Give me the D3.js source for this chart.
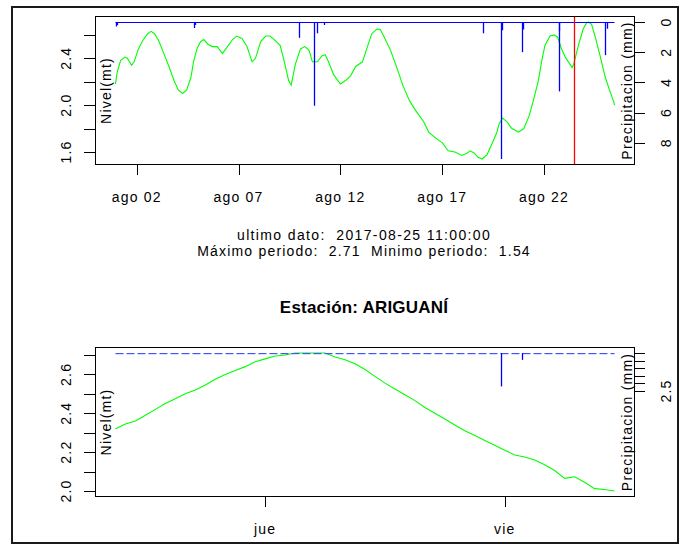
<!DOCTYPE html>
<html><head><meta charset="utf-8">
<script src="https://cdn.jsdelivr.net/npm/d3@7"></script>
<style>
body{margin:0;background:#fff;}
svg text{font-family:"Liberation Sans",Arial,sans-serif;font-size:14px;letter-spacing:1.2px;fill:#000;white-space:pre;}
</style></head><body>
<svg id="c" width="683" height="544"></svg>
<script>
// ---------------- data ----------------
const START = "2017-08-01T00:00:00";            // hours below are counted from here
const levelHours = [-1,1,5,10,13,18,21,26,31,37,41,45,50,56,62,68,73,78,83,88,91,95,99,103,108,113,119,125,131,137,142,148,154,160,164,170,176,181,186,193,198,203,206,211,217,222,227,231,237,242,246,250,256,264,270,276,282,290,295,301,307,311,315,323,331,338,346,354,362,368,376,384,391,399,407,413,417,422,426,431,437,442,448,451,455,460,466,474,480,486,491,497,501,505,511,516,520,524,529,537,539,544,550,554,556,560,564,570,576,581,586,587];
const levelValues = [2.18,2.28,2.38,2.41,2.40,2.34,2.37,2.48,2.55,2.61,2.63,2.61,2.55,2.44,2.33,2.21,2.13,2.10,2.13,2.24,2.37,2.48,2.54,2.56,2.52,2.50,2.50,2.44,2.50,2.56,2.59,2.57,2.50,2.37,2.40,2.54,2.59,2.59,2.56,2.51,2.37,2.21,2.17,2.35,2.48,2.50,2.47,2.37,2.37,2.42,2.43,2.37,2.26,2.18,2.21,2.25,2.33,2.37,2.48,2.61,2.65,2.645,2.59,2.47,2.31,2.16,2.03,1.94,1.86,1.77,1.72,1.68,1.61,1.60,1.57,1.59,1.61,1.59,1.555,1.54,1.58,1.66,1.76,1.84,1.89,1.86,1.80,1.77,1.80,1.90,2.03,2.20,2.37,2.51,2.59,2.60,2.58,2.49,2.41,2.32,2.35,2.50,2.65,2.70,2.71,2.69,2.59,2.42,2.24,2.13,2.03,2.00];
const rainHours  = [0,1,92,93,215,233,237,245,432,453,454,478,479,521,522,575.6,577.7];
const rainValues = [0.3,0.2,0.4,0.2,1.05,5.55,0.75,0.2,0.75,9.08,0.55,2.0,0.5,4.6,0.6,2.2,0.45];
const lastHours  = [537,538,539,540,541,542,543,544,545,546,547,548,549,550,551,552,553,554,555,556,557,558,559,560,561,562,563,564,565,566,567,568,569,570,571,572,573,574,575,576,577,578,579,580,581,582,583,584,585,586,587];
const lastValues = [2.32,2.345,2.36,2.39,2.42,2.45,2.475,2.50,2.52,2.545,2.575,2.60,2.62,2.64,2.665,2.68,2.695,2.70,2.71,2.71,2.71,2.71,2.69,2.675,2.655,2.625,2.59,2.555,2.525,2.495,2.465,2.43,2.40,2.37,2.34,2.31,2.285,2.26,2.235,2.21,2.185,2.175,2.16,2.135,2.105,2.065,2.073,2.045,2.012,2.008,2.00];
const topTickDates    = ["2017-08-02T00:00:00","2017-08-07T00:00:00","2017-08-12T00:00:00","2017-08-17T00:00:00","2017-08-22T00:00:00"];
const topTickLabels   = ["ago 02","ago 07","ago 12","ago 17","ago 22"];
const bottomTickDates = ["2017-08-24T00:00:00","2017-08-25T00:00:00"];
const bottomTickLabels= ["jue","vie"];
const levelTicksTop    = [1.6,1.8,2.0,2.2,2.4,2.6];
const levelLabelsTop   = ["1.6","","2.0","","2.4",""];
const rainTicksTop     = [0,2,4,6,8];
const rainLabelsTop    = ["0","2","4","6","8"];
const levelTicksBottom = [2.0,2.1,2.2,2.3,2.4,2.5,2.6,2.7];
const levelLabelsBottom= ["2.0","","2.2","","2.4","","2.6",""];
const rainTicksBottom  = [0,0.5,1,1.5,2,2.5];
const rainLabelsBottom = ["","","","","","2.5"];
const markerTime = "2017-08-23T11:00:00";
const lastDate = "2017-08-25 11:00:00";
const maxPeriod = "2.71", minPeriod = "1.54";
const station = "ARIGUANÍ";

// ---------------- drawing ----------------
const svg = d3.select("#c");
const t0 = new Date(START).getTime();
const toDate = h => new Date(t0 + h*3600e3);
const pad = ([a,b]) => [a-0.04*(b-a), b+0.04*(b-a)];
const GREEN="#00ff00", BLUE="#0000ff", RED="#ff0000";
const SP2 = "\u00a0\u00a0";

// outer frame
svg.append("rect").attr("x",12).attr("y",7).attr("width",666).attr("height",536)
  .attr("fill","none").attr("stroke","#1a1a1a").attr("stroke-width",2);

const rainDomain = pad([0, d3.max(rainValues)]);

function panel(o){
  const {L,R,T,B} = o;
  const g = svg.append("g");
  const x = d3.scaleTime().domain(pad(d3.extent(o.hours)).map(toDate)).range([L,R]);
  const y = d3.scaleLinear().domain(pad(d3.extent(o.values))).range([B,T]);
  const yr = d3.scaleLinear().domain(rainDomain).range([T,B]);
  // level line
  const pts = o.hours.map((h,i)=>[toDate(h), o.values[i]]);
  g.append("path").datum(pts).attr("fill","none").attr("stroke",GREEN).attr("stroke-width",1.1)
    .attr("d", d3.line().x(d=>x(d[0])).y(d=>y(d[1])));
  // rain baseline
  const by = Math.round(yr(0))+0.5;
  const bx0 = x(toDate(o.hours[0])), bx1 = x(toDate(o.hours[o.hours.length-1]));
  if (o.dashed){
    const dashes = d3.range(bx0, bx1, 11);
    g.selectAll("rect.dash").data(dashes).join("rect").attr("class","dash")
      .attr("x",d=>d).attr("y",by-0.5).attr("width",d=>Math.min(8, bx1-d)).attr("height",1.2)
      .attr("fill","#4455ff");
  } else {
    g.append("line").attr("x1",bx0).attr("x2",bx1).attr("y1",by).attr("y2",by)
      .attr("stroke",BLUE).attr("stroke-width",1.2);
  }
  // rain bars
  const rain = rainHours.map((h,i)=>({t:toDate(h), v:rainValues[i], h}))
    .filter(d=>d.h>=o.hours[0]-0.5 && d.h<=o.hours[o.hours.length-1]+0.5);
  g.selectAll("line.bar").data(rain).join("line").attr("class","bar")
    .attr("x1",d=>Math.round(x(d.t))+0.5).attr("x2",d=>Math.round(x(d.t))+0.5)
    .attr("y1",yr(0)).attr("y2",d=>yr(d.v)).attr("stroke",BLUE).attr("stroke-width",1.3);
  // marker
  if (o.marker){
    const mx = Math.round(x(new Date(o.marker)))+0.5;
    g.append("line").attr("x1",mx).attr("x2",mx).attr("y1",T).attr("y2",B)
      .attr("stroke",RED).attr("stroke-width",1.3);
  }
  // box
  g.append("rect").attr("x",L).attr("y",T).attr("width",R-L).attr("height",B-T)
    .attr("fill","none").attr("stroke","#000").attr("stroke-width",1).attr("shape-rendering","crispEdges");
  // left axis
  o.lt.forEach((v,i)=>{
    const yy = Math.round(y(v))+0.5;
    g.append("line").attr("x1",L-12).attr("x2",L).attr("y1",yy).attr("y2",yy).attr("stroke","#000").attr("shape-rendering","crispEdges");
    if (o.ll[i]) g.append("text").attr("transform",`translate(66,${y(v)}) rotate(-90)`)
      .attr("text-anchor","middle").attr("dominant-baseline","central").text(o.ll[i]);
  });
  // right axis
  o.rt.forEach((v,i)=>{
    const yy = Math.round(yr(v))+0.5;
    g.append("line").attr("x1",R).attr("x2",R+10).attr("y1",yy).attr("y2",yy).attr("stroke","#000").attr("shape-rendering","crispEdges");
    if (o.rl[i]) g.append("text").attr("transform",`translate(666,${yr(v)}) rotate(-90)`)
      .attr("text-anchor","middle").attr("dominant-baseline","central").text(o.rl[i]);
  });
  // bottom axis
  o.xt.forEach((d,i)=>{
    const xx = Math.round(x(new Date(d)))+0.5;
    g.append("line").attr("x1",xx).attr("x2",xx).attr("y1",B).attr("y2",B+10).attr("stroke","#000").attr("shape-rendering","crispEdges");
    g.append("text").attr("x",x(new Date(d))).attr("y",B+37).attr("text-anchor","middle").text(o.xl[i]);
  });
  // axis titles (inside the box)
  g.append("text").attr("transform",`translate(106,${(T+B)/2}) rotate(-90)`)
    .attr("text-anchor","middle").attr("dominant-baseline","central").text("Nivel(mt)");
  g.append("text").attr("transform",`translate(627,${(T+B)/2}) rotate(-90)`)
    .attr("text-anchor","middle").attr("dominant-baseline","central").text("Precipitacion (mm)");
}

panel({L:95.5,R:634.5,T:16.5,B:164.5,hours:levelHours,values:levelValues,marker:markerTime,
  lt:levelTicksTop,ll:levelLabelsTop,rt:rainTicksTop,rl:rainLabelsTop,xt:topTickDates,xl:topTickLabels,dashed:false});
panel({L:95.5,R:634.5,T:347.5,B:496.5,hours:lastHours,values:lastValues,
  lt:levelTicksBottom,ll:levelLabelsBottom,rt:rainTicksBottom,rl:rainLabelsBottom,xt:bottomTickDates,xl:bottomTickLabels,dashed:true});

// annotations
svg.append("text").attr("x",364).attr("y",240).attr("text-anchor","middle")
  .attr("textLength",254).attr("lengthAdjust","spacing")
  .text(`ultimo dato:${SP2}${lastDate}`);
svg.append("text").attr("x",364).attr("y",256).attr("text-anchor","middle")
  .text(`Máximo periodo:${SP2}${maxPeriod}${SP2}Minimo periodo:${SP2}${minPeriod}`);
svg.append("text").attr("x",364).attr("y",313).attr("text-anchor","middle")
  .style("font-weight","bold").style("font-size","17px").style("letter-spacing","0.2px")
  .text(`Estación: ${station}`);
</script>
</body></html>
